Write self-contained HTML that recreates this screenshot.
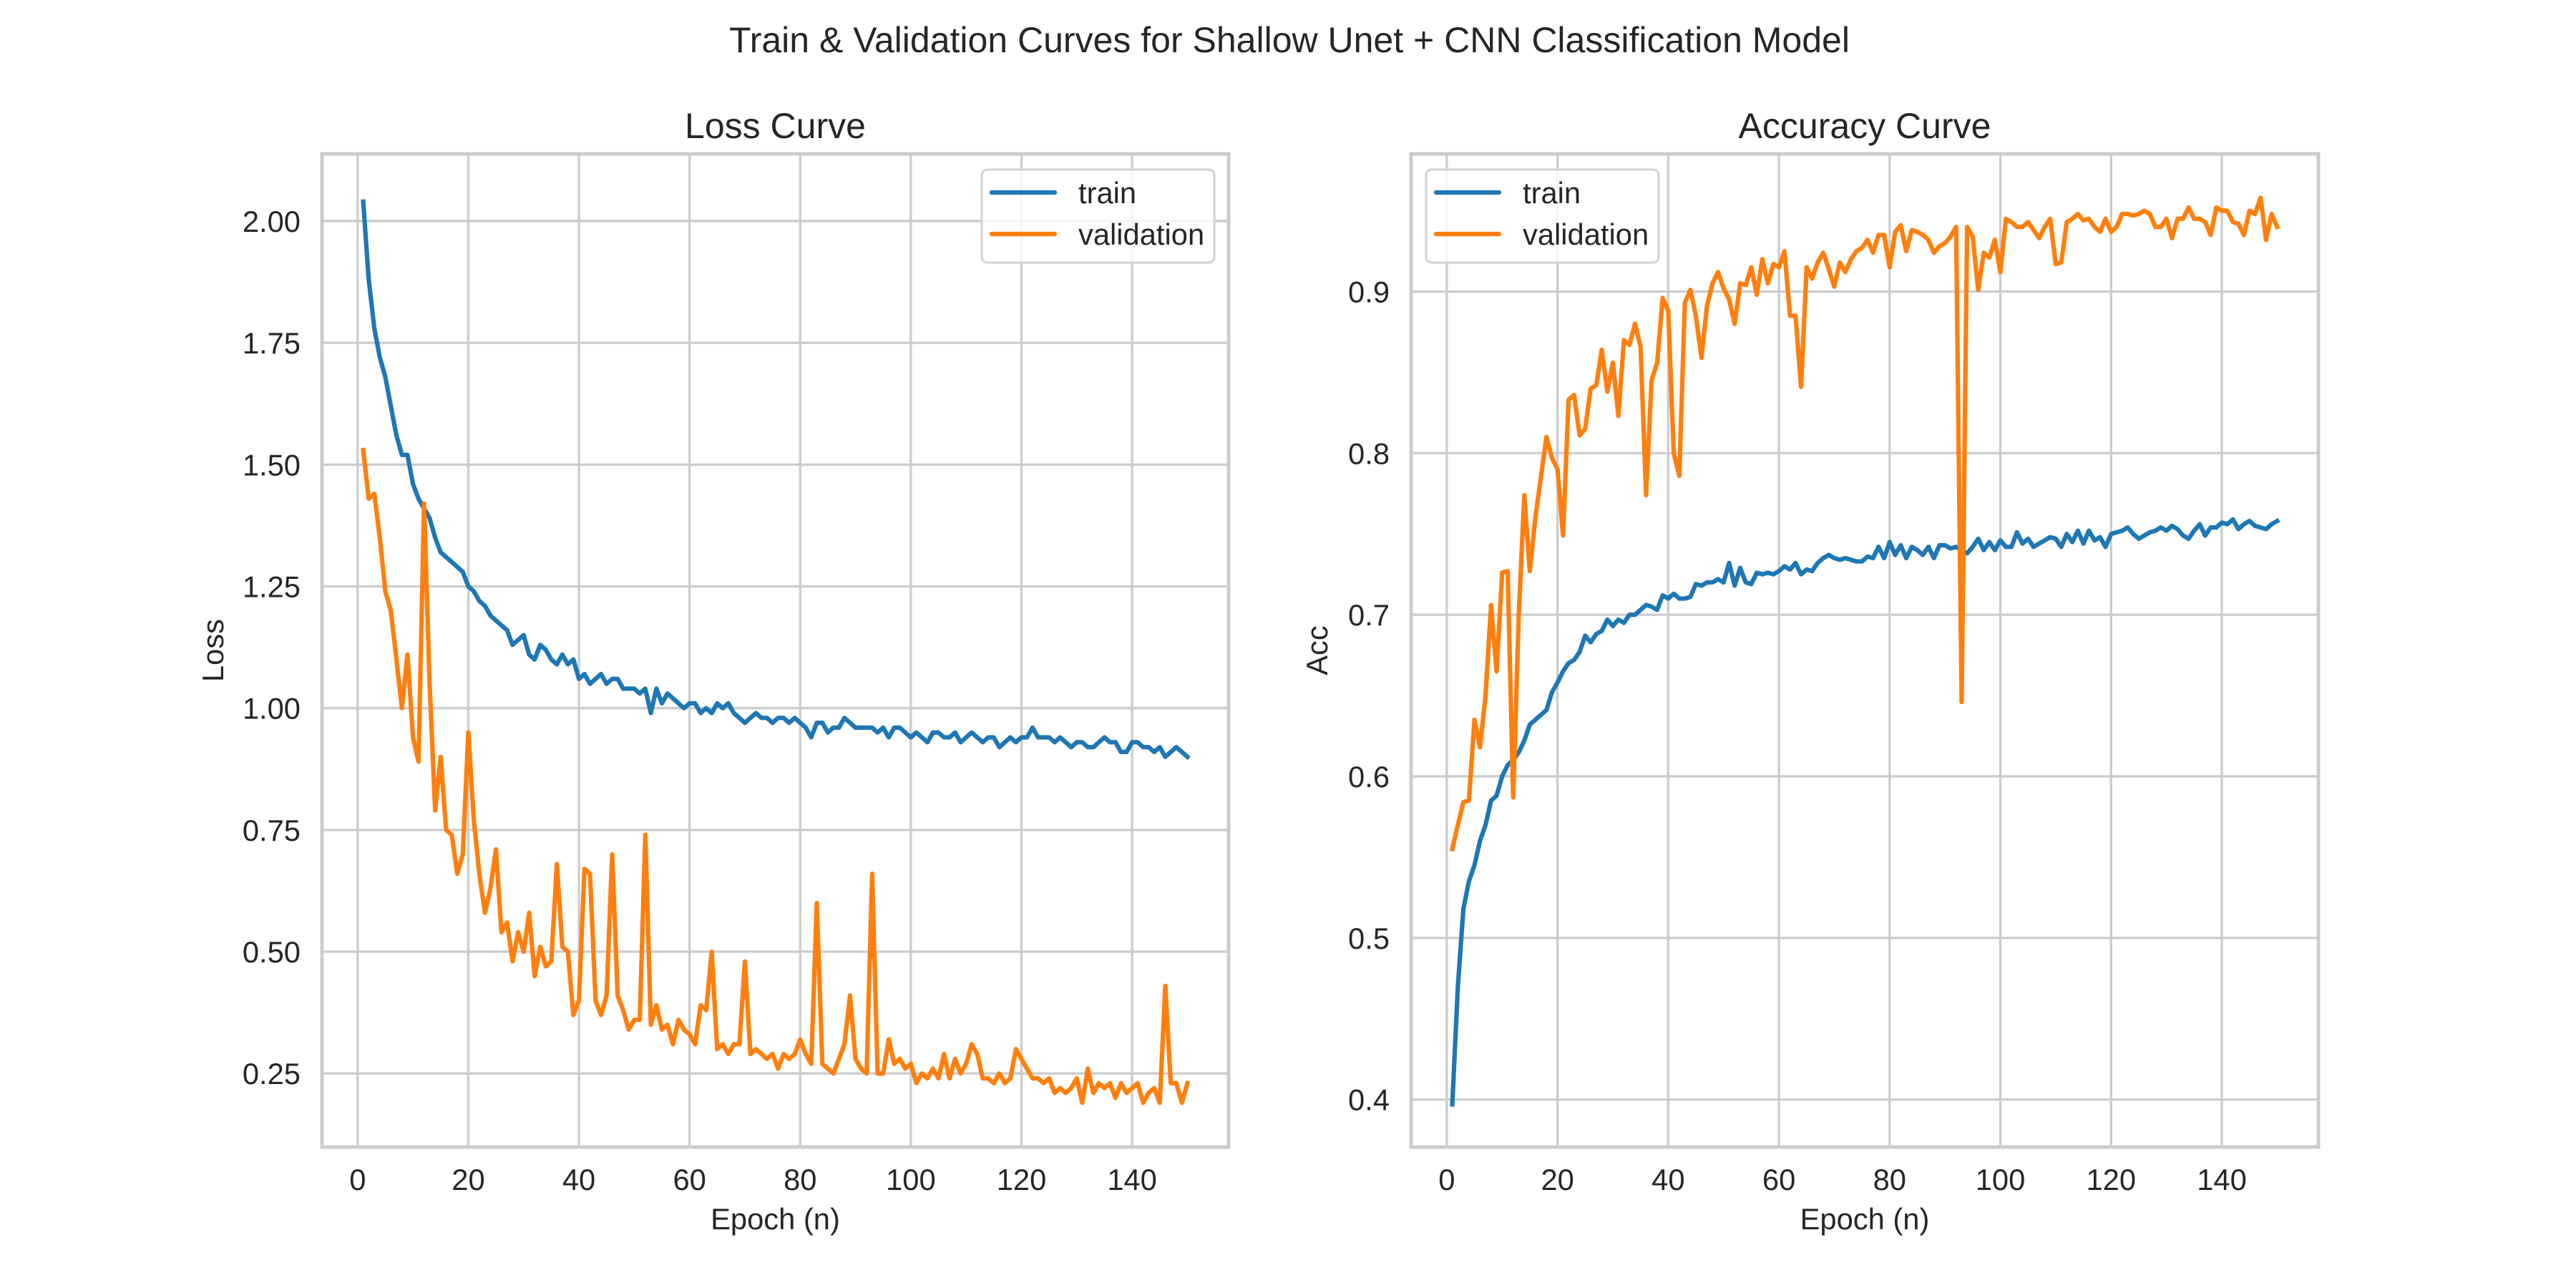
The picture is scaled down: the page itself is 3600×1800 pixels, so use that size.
<!DOCTYPE html>
<html><head><meta charset="utf-8"><style>
html,body{margin:0;padding:0;background:#fff;}
svg{display:block;}
text{font-family:"Liberation Sans",Arial,sans-serif;fill:#262626;}
</style></head><body>
<svg id="fig" width="3600" height="1800" viewBox="0 0 3600 1800" xmlns="http://www.w3.org/2000/svg">
<rect width="3600" height="1800" fill="#fff"/>
<text x="1802" y="73" font-size="50" text-anchor="middle">Train &amp; Validation Curves for Shallow Unet + CNN Classification Model</text>
<g id="ax1"></g>
<g id="ax2"></g>
</svg>
<script>
const epochTicks=[0,20,40,60,80,100,120,140];
const lossTicks=[0.25,0.5,0.75,1.0,1.25,1.5,1.75,2.0];
const lossTickLabels=["0.25","0.50","0.75","1.00","1.25","1.50","1.75","2.00"];
const accTicks=[0.4,0.5,0.6,0.7,0.8,0.9];
const accTickLabels=["0.4","0.5","0.6","0.7","0.8","0.9"];
const lossTrain=[2.04,1.88,1.78,1.72,1.68,1.62,1.56,1.52,1.52,1.46,
1.43,1.41,1.39,1.35,1.32,1.31,1.30,1.29,1.28,1.25,
1.24,1.22,1.21,1.19,1.18,1.17,1.16,1.13,1.14,1.15,
1.11,1.10,1.13,1.12,1.10,1.09,1.11,1.09,1.10,1.06,
1.07,1.05,1.06,1.07,1.05,1.06,1.06,1.04,1.04,1.04,
1.03,1.04,0.99,1.04,1.01,1.03,1.02,1.01,1.00,1.01,
1.01,0.99,1.00,0.99,1.01,1.00,1.01,0.99,0.98,0.97,
0.98,0.99,0.98,0.98,0.97,0.98,0.98,0.97,0.98,0.97,
0.96,0.94,0.97,0.97,0.95,0.96,0.96,0.98,0.97,0.96,
0.96,0.96,0.96,0.95,0.96,0.94,0.96,0.96,0.95,0.94,
0.95,0.94,0.93,0.95,0.95,0.94,0.94,0.95,0.93,0.94,
0.95,0.94,0.93,0.94,0.94,0.92,0.93,0.94,0.93,0.94,
0.94,0.96,0.94,0.94,0.94,0.93,0.94,0.93,0.92,0.93,
0.93,0.92,0.92,0.93,0.94,0.93,0.93,0.91,0.91,0.93,
0.93,0.92,0.92,0.91,0.92,0.90,0.91,0.92,0.91,0.90];
const lossVal=[1.53,1.43,1.44,1.35,1.24,1.20,1.10,1.00,1.11,0.94,
0.89,1.42,1.05,0.79,0.90,0.75,0.74,0.66,0.70,0.95,
0.77,0.66,0.58,0.63,0.71,0.54,0.56,0.48,0.54,0.50,
0.58,0.45,0.51,0.47,0.48,0.68,0.51,0.50,0.37,0.40,
0.67,0.66,0.40,0.37,0.41,0.70,0.41,0.38,0.34,0.36,
0.36,0.74,0.35,0.39,0.34,0.35,0.31,0.36,0.34,0.33,
0.31,0.39,0.38,0.50,0.30,0.31,0.29,0.31,0.31,0.48,
0.29,0.30,0.29,0.28,0.29,0.26,0.29,0.28,0.29,0.32,
0.29,0.27,0.60,0.27,0.26,0.25,0.28,0.31,0.41,0.28,
0.26,0.25,0.66,0.25,0.25,0.32,0.27,0.28,0.26,0.27,
0.23,0.25,0.24,0.26,0.24,0.29,0.24,0.28,0.25,0.27,
0.31,0.29,0.24,0.24,0.23,0.25,0.23,0.24,0.30,0.28,
0.26,0.24,0.24,0.23,0.24,0.21,0.22,0.21,0.22,0.24,
0.19,0.26,0.21,0.23,0.22,0.23,0.20,0.23,0.21,0.22,
0.23,0.19,0.21,0.22,0.19,0.43,0.23,0.23,0.19,0.23];
const accTrain=[.397,.47,.518,.535,.545,.56,.57,.585,.588,.60,
.607,.61,.615,.622,.632,.635,.638,.641,.652,.658,
.665,.67,.672,.677,.687,.683,.688,.69,.697,.693,
.697,.695,.70,.70,.703,.706,.705,.703,.712,.71,
.713,.71,.71,.711,.719,.718,.72,.72,.722,.72,
.732,.718,.729,.72,.719,.726,.725,.726,.725,.727,
.73,.728,.732,.725,.728,.727,.732,.735,.737,.735,
.734,.735,.734,.733,.733,.736,.735,.742,.735,.745,
.737,.743,.735,.742,.74,.737,.742,.735,.743,.743,
.741,.742,.74,.738,.742,.747,.74,.745,.74,.746,
.742,.742,.751,.744,.747,.742,.744,.746,.748,.747,
.742,.75,.745,.752,.744,.752,.746,.748,.742,.75,
.751,.752,.754,.75,.747,.749,.751,.752,.754,.752,
.755,.753,.749,.747,.752,.756,.749,.754,.754,.757,
.756,.759,.753,.756,.758,.755,.754,.753,.756,.758];
const accVal=[.555,.57,.584,.585,.635,.618,.65,.706,.665,.726,
.727,.587,.70,.774,.727,.76,.785,.81,.797,.79,
.749,.833,.836,.811,.815,.84,.842,.864,.838,.856,
.823,.87,.867,.88,.866,.774,.845,.856,.896,.888,
.80,.786,.893,.901,.885,.859,.891,.905,.912,.902,
.895,.88,.905,.904,.915,.898,.92,.905,.917,.915,
.925,.885,.885,.841,.915,.908,.918,.924,.914,.903,
.918,.912,.92,.925,.927,.932,.924,.935,.935,.915,
.937,.941,.925,.938,.937,.935,.932,.924,.928,.93,
.934,.94,.646,.94,.934,.901,.924,.921,.932,.912,
.945,.943,.94,.94,.943,.938,.933,.94,.945,.917,
.918,.943,.945,.948,.944,.945,.94,.937,.945,.937,
.94,.948,.948,.947,.948,.95,.948,.94,.94,.945,
.933,.945,.945,.952,.945,.945,.943,.935,.952,.95,
.95,.943,.942,.935,.95,.948,.958,.932,.948,.94];

const NS="http://www.w3.org/2000/svg";
function mk(tag,attrs,parent){const e=document.createElementNS(NS,tag);for(const k in attrs)e.setAttribute(k,attrs[k]);parent.appendChild(e);return e;}

function drawAxes(g,cfg){
  const L=cfg.left,R=cfg.right,T=215,B=1603;
  const xs=v=>L+(v-cfg.xmin)/(cfg.xmax-cfg.xmin)*(R-L);
  const ys=v=>T+(cfg.ymax-v)/(cfg.ymax-cfg.ymin)*(B-T);
  // grid
  epochTicks.forEach((t,i)=>{
    const ln=mk('line',{x1:xs(t),x2:xs(t),y1:T,y2:B,stroke:'#cccccc','stroke-width':3.3},g);
    
    
    const tx=mk('text',{x:xs(t),y:1663,'font-size':41.7,'text-anchor':'middle'},g);
    tx.textContent=String(t);
    
    
  });
  cfg.yt.forEach((t,i)=>{
    const ln=mk('line',{x1:L,x2:R,y1:ys(t),y2:ys(t),stroke:'#cccccc','stroke-width':3.3},g);
    
    
    const tx=mk('text',{x:L-30,y:ys(t)+15,'font-size':41.7,'text-anchor':'end'},g);
    tx.textContent=cfg.yl[i];
    
    
  });
  // series
  cfg.series.forEach(s=>{
    const pts=s.data.map((v,i)=>xs(i+1).toFixed(1)+','+ys(v).toFixed(1)).join(' ');
    const pl=mk('polyline',{points:pts,fill:'none',stroke:s.color,'stroke-width':6.25,'stroke-linejoin':'round','stroke-linecap':'square'},g);
    
    
  });
  // frame
  const fr=mk('rect',{x:L,y:T,width:R-L,height:B-T,fill:'none',stroke:'#cccccc','stroke-width':5},g);
  
  
  // titles
  const tt=mk('text',{x:(L+R)/2,y:193,'font-size':50,'text-anchor':'middle'},g);
  tt.textContent=cfg.title;
  
  
  const xl=mk('text',{x:(L+R)/2,y:1718,'font-size':41.7,'text-anchor':'middle'},g);
  xl.textContent='Epoch (n)';
  
  
  const yl=mk('text',{x:0,y:0,'font-size':41.7,'text-anchor':'middle',transform:'translate('+cfg.ylx+',909) rotate(-90)'},g);
  yl.textContent=cfg.ylabel;
  
  
  // legend
  const lx=cfg.legX;
  const lg=mk('g',{},g);
  
  
  mk('rect',{x:lx,y:237,width:325,height:130,rx:8,fill:'#fff','fill-opacity':0.8,stroke:'#d5d5d5','stroke-width':3.3},lg);
  cfg.series.forEach((s,i)=>{
    const y=269+i*58;
    const ln=mk('line',{x1:lx+14,x2:lx+102,y1:y,y2:y,stroke:s.color,'stroke-width':6.25,'stroke-linecap':'round'},lg);
    
    
    const tx=mk('text',{x:lx+135,y:y+15,'font-size':41.7},lg);
    tx.textContent=s.label;
    
    
  });
}
drawAxes(document.getElementById('ax1'),{left:450,right:1717,xmin:-6.45,xmax:157.45,ymin:0.099,ymax:2.138,
  yt:lossTicks,yl:lossTickLabels,title:'Loss Curve',ylabel:'Loss',ylx:312,legX:1372,
  series:[{data:lossTrain,color:'#1f77b4',name:'loss-train-line',label:'train'},{data:lossVal,color:'#ff7f0e',name:'loss-validation-line',label:'validation'}]});
drawAxes(document.getElementById('ax2'),{left:1972,right:3240,xmin:-6.45,xmax:157.45,ymin:0.3706,ymax:0.9852,
  yt:accTicks,yl:accTickLabels,title:'Accuracy Curve',ylabel:'Acc',ylx:1855,legX:1993,
  series:[{data:accTrain,color:'#1f77b4',name:'acc-train-line',label:'train'},{data:accVal,color:'#ff7f0e',name:'acc-validation-line',label:'validation'}]});
</script>
</body></html>
